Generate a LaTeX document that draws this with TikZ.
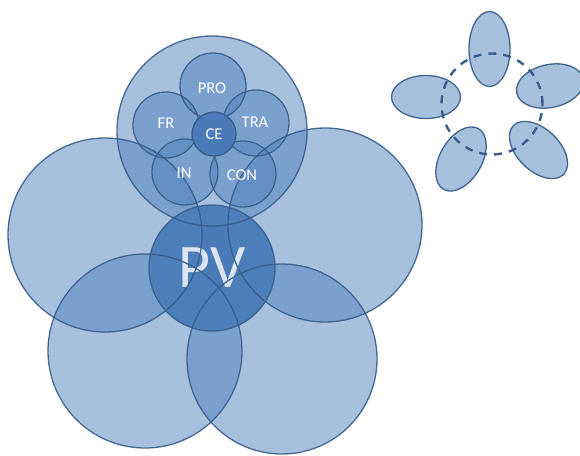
\documentclass[tikz,border=0pt]{standalone}
\usepackage{fontspec}
\setmainfont{Carlito}
\usetikzlibrary{shapes.geometric}
\definecolor{acc}{HTML}{4F81BD}
\definecolor{edgeblue}{HTML}{385D8A}
\definecolor{deep}{HTML}{4A7BB8}
\begin{document}
\begin{tikzpicture}[x=1pt,y=-1pt,
  bub/.style={circle, fill=acc, fill opacity=0.5, inner sep=0pt},
  rim/.style={draw=edgeblue, line width=1.3pt, draw opacity=0.9},
  core/.style={circle, draw=edgeblue, line width=1.3pt, fill=deep, inner sep=0pt},
  lbl/.style={text=white, inner sep=0pt, font=\fontsize{16.5}{16.5}\selectfont},
  pod/.style={ellipse, draw=edgeblue, line width=1.3pt, fill=acc, fill opacity=0.5, draw opacity=0.95, inner sep=0pt},
  ring/.style={circle, draw=edgeblue, line width=2.4pt, dash pattern=on 8pt off 7pt, inner sep=0pt, minimum size=101pt}]
\useasboundingbox (0,0) rectangle (580,455);
% centre disc (opaque, lowest)
\node[circle, fill=deep, inner sep=0pt, minimum size=126pt] (pv) at (212,268) {};
% four big circles
\node[bub, minimum size=194pt] (ul) at (105,235) {};
\node[bub, minimum size=194pt] (ur) at (325,225) {};
\node[bub, minimum size=194pt] (ll) at (145,351) {};
\node[bub, minimum size=190pt] (lr) at (282,359) {};
% top circle with petals
\node[bub, minimum size=190pt] (top) at (212,131) {};
\node[bub, minimum size=66pt] (pro) at (213,86) {};
\node[bub, minimum size=66pt] (fr) at (166,125) {};
\node[bub, minimum size=66pt] (tra) at (256,123) {};
\node[bub, minimum size=66pt] (in) at (185,172) {};
\node[bub, minimum size=66pt] (con) at (243,174) {};
% big label, seen through by the outlines
\node[lbl, text opacity=0.8, font=\fontsize{62}{62}\selectfont] (pvl) at (pv.center) {PV};
% outlines on top of all fills
\draw[rim] (pv.center) circle[radius=63pt];
\draw[rim] (ul.center) circle[radius=97pt];
\draw[rim] (ur.center) circle[radius=97pt];
\draw[rim] (ll.center) circle[radius=97pt];
\draw[rim] (lr.center) circle[radius=95pt];
\draw[rim] (top.center) circle[radius=95pt];
\foreach \p in {pro,fr,tra,in,con} \draw[rim] (\p.center) circle[radius=33pt];
% centre of the flower
\node[core, minimum size=44pt] (ce) at (214,134) {};
% labels
\node[lbl] (prol) at (212,88) {PRO};
\node[lbl] (frl) at (166,123) {FR};
\node[lbl] (tral) at (255,122) {TRA};
\node[lbl] (inl) at (184,173) {IN};
\node[lbl] (conl) at (242,175) {CON};
\node[lbl] (cel) at (ce.center) {CE};
% right group of ellipses
\node[pod, minimum width=75pt, minimum height=41pt, rotate=90] (e1) at (489.5,49) {};
\node[pod, minimum width=69pt, minimum height=43pt] (e2) at (426,97) {};
\node[pod, minimum width=68pt, minimum height=43pt, rotate=12] (e3) at (550,86) {};
\node[pod, minimum width=70pt, minimum height=42pt, rotate=60] (e4) at (461,159) {};
\node[pod, minimum width=70pt, minimum height=42pt, rotate=-44] (e5) at (538.5,150) {};
\node[ring] (r) at (492,104) {};
\end{tikzpicture}
\end{document}
